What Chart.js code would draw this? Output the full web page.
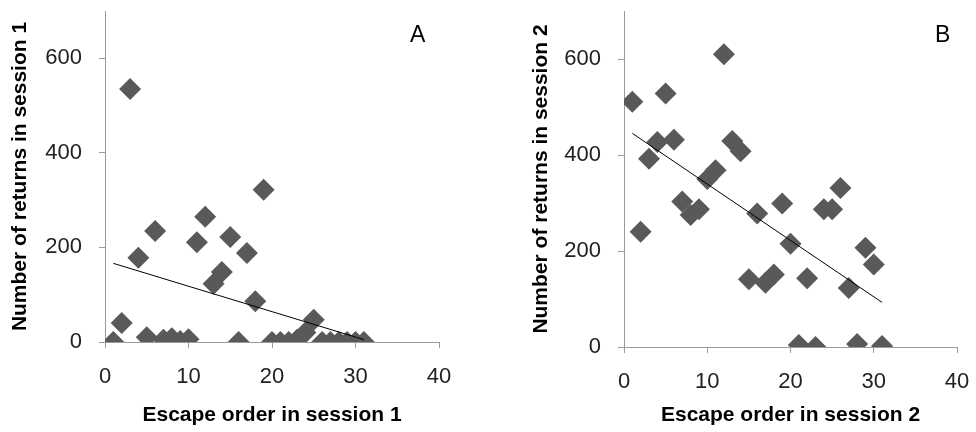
<!DOCTYPE html>
<html>
<head>
<meta charset="utf-8">
<script src="https://cdn.jsdelivr.net/npm/chart.js@4"></script>
<style>
  body { margin: 0; background: #fff; }
  #wrap { position: relative; width: 976px; height: 432px; overflow: hidden; }
  canvas { position: absolute; top: 0; }
  .panel { position: absolute; font: 23px "Liberation Sans", Arial, sans-serif; color: #000; }
</style>
</head>
<body>
<div id="wrap">
  <canvas id="chartA" width="488" height="432" style="left:0"></canvas>
  <canvas id="chartB" width="455" height="432" style="left:521px"></canvas>
  <div class="panel" style="left:410px; top:21px">A</div>
  <div class="panel" style="left:935px; top:21px">B</div>
</div>
<script>
// session 1
const escapeOrder1 = [1, 2, 3, 4, 5, 6, 7, 8, 9, 10, 11, 12, 13, 14, 15, 16,
    17, 18, 19, 20, 21, 22, 23, 24, 25, 26, 27, 28, 29, 30, 31];
const returns1 = [0, 40, 535, 178, 10, 235, 5, 8, 2, 6, 211, 265, 123, 148, 222, 0,
    188, 86, 322, 0, 0, 0, 5, 20, 47, 0, 0, 0, 0, 0, 0];

// session 2
const escapeOrder2 = [1, 2, 3, 4, 5, 6, 7, 8, 9, 10, 11, 12, 13, 14, 15, 16,
    17, 18, 19, 20, 21, 22, 23, 24, 25, 26, 27, 28, 29, 30, 31];
const returns2 = [511, 240, 392, 427, 528, 432, 303, 275, 287, 350, 368, 610, 429, 408, 141, 278,
    134, 151, 299, 215, 4, 143, 0, 287, 287, 331, 123, 6, 207, 172, 2];

const xTicks = [0, 10, 20, 30, 40];
const yTicks = [0, 200, 400, 600];

Chart.defaults.font.family = '"Liberation Sans", Arial, sans-serif';
Chart.defaults.font.size = 22;
Chart.defaults.color = '#222';

// linear trendline (least squares), like the spreadsheet one
function trend(xs, ys) {
    const n = xs.length;
    const mx = xs.reduce((a, b) => a + b, 0) / n;
    const my = ys.reduce((a, b) => a + b, 0) / n;
    let sxy = 0, sxx = 0;
    for (let i = 0; i < n; i++) {
        sxy += (xs[i] - mx) * (ys[i] - my);
        sxx += (xs[i] - mx) * (xs[i] - mx);
    }
    const slope = sxy / sxx;
    const x0 = Math.min(...xs), x1 = Math.max(...xs);
    return [
        { x: x0, y: my + slope * (x0 - mx) },
        { x: x1, y: my + slope * (x1 - mx) }
    ];
}

function makeChart(id, xs, ys, xTitle, yTitle, pad, xAxisH) {
    const points = xs.map((x, i) => ({ x: x, y: ys[i] }));
    const axisGrey = '#9a9a9a';
    const titleFont = { size: 21, weight: 'bold' };
    return new Chart(document.getElementById(id), {
        type: 'scatter',
        data: {
            datasets: [
                {
                    data: points,
                    pointStyle: 'rectRot',
                    pointRadius: 11,
                    backgroundColor: '#595959',
                    borderWidth: 0,
                    order: 2
                },
                {
                    type: 'line',
                    data: trend(xs, ys),
                    borderColor: '#000',
                    borderWidth: 1,
                    pointRadius: 0,
                    order: 1
                }
            ]
        },
        options: {
            responsive: false,
            animation: false,
            layout: { padding: pad },
            plugins: { legend: { display: false }, tooltip: { enabled: false } },
            scales: {
                x: {
                    type: 'linear',
                    min: 0,
                    max: 40,
                    afterBuildTicks: s => { s.ticks = xTicks.map(v => ({ value: v })); },
                    afterFit: s => { s.height = xAxisH; s.paddingLeft = 0; s.paddingRight = 0; },
                    grid: { drawOnChartArea: false, tickLength: 6, color: axisGrey },
                    border: { color: axisGrey },
                    ticks: { padding: 16, font: { size: 22 } },
                    title: {
                        display: true,
                        text: xTitle,
                        color: '#000',
                        padding: { top: 0, bottom: 4 },
                        font: titleFont
                    }
                },
                y: {
                    min: 0,
                    max: 700,
                    afterBuildTicks: s => { s.ticks = yTicks.map(v => ({ value: v })); },
                    afterFit: s => { s.width = pad.yAxisW; s.paddingTop = 0; s.paddingBottom = 0; },
                    grid: { drawOnChartArea: false, tickLength: 6, color: axisGrey },
                    border: { color: axisGrey },
                    ticks: { padding: 17, font: { size: 22 } },
                    title: {
                        display: true,
                        text: yTitle,
                        color: '#000',
                        padding: { top: 8, bottom: 0 },
                        font: titleFont
                    }
                }
            }
        }
    });
}

makeChart('chartA', escapeOrder1, returns1, 'Escape order in session 1', 'Number of returns in session 1',
    { top: 10, right: 49, left: 0, bottom: 0, yAxisW: 105 }, 90);
makeChart('chartB', escapeOrder2, returns2, 'Escape order in session 2', 'Number of returns in session 2',
    { top: 6, right: 19, left: 0, bottom: 0, yAxisW: 103 }, 85);
</script>
</body>
</html>
